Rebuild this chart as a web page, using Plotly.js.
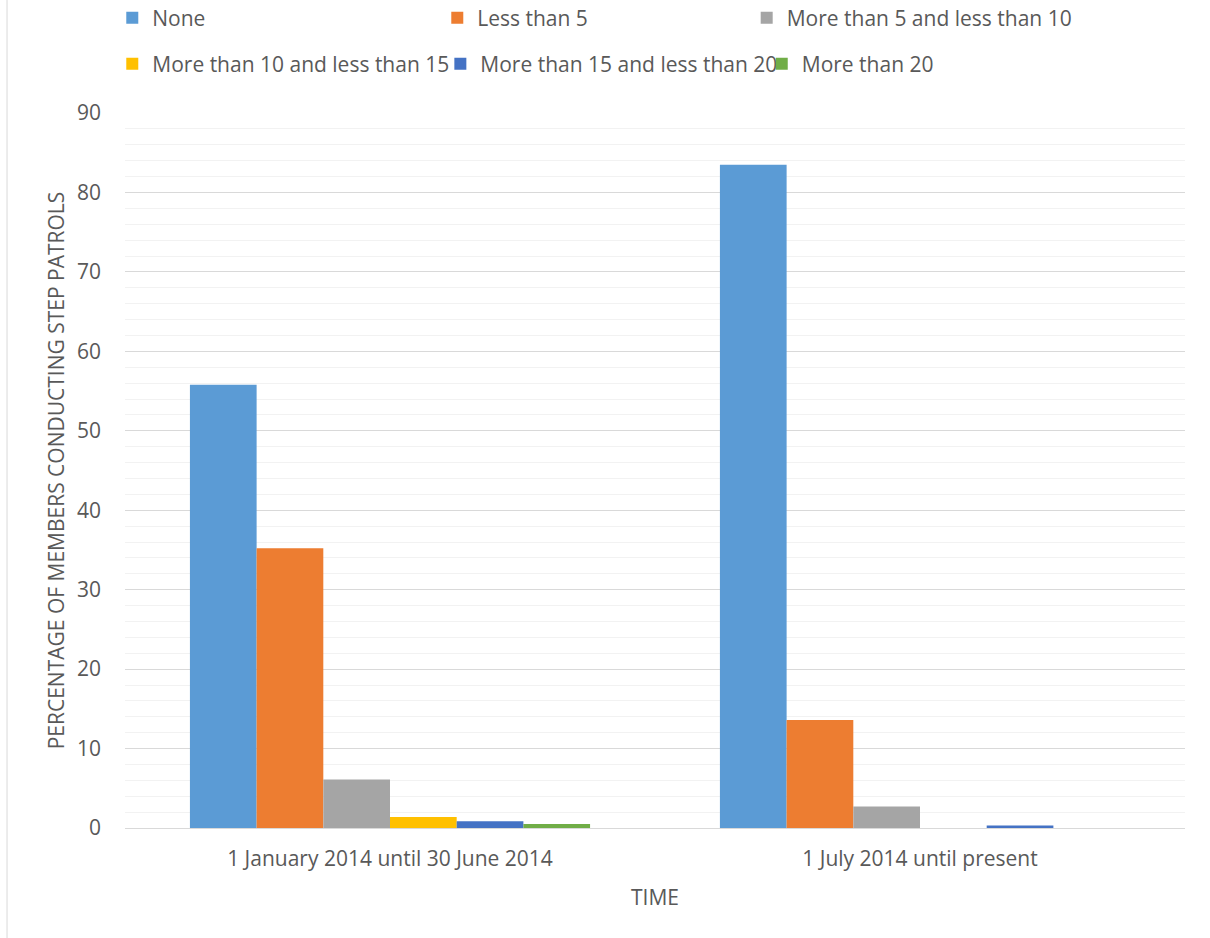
<!DOCTYPE html>
<html>
<head>
<meta charset="utf-8">
<script src="https://cdn.plot.ly/plotly-3.0.1.min.js"></script>
<style>html,body{margin:0;padding:0;background:#fff;}#chart{width:1210px;height:938px;}</style>
</head>
<body>
<div id="chart"></div>
<script>
const categories = ['1 January 2014 until 30 June 2014', '1 July 2014 until present'];
const seriesNames = ['None', 'Less than 5', 'More than 5 and less than 10', 'More than 10 and less than 15', 'More than 15 and less than 20', 'More than 20'];
const none = [55.8, 83.5];
const lessThan5 = [35.2, 13.6];
const fiveToTen = [6.1, 2.7];
const tenToFifteen = [1.4, 0];
const fifteenToTwenty = [0.85, 0.3];
const moreThan20 = [0.5, 0];
const seriesColors = ['#5B9BD5', '#ED7D31', '#A5A5A5', '#FFC000', '#4472C4', '#70AD47'];

const allValues = [none, lessThan5, fiveToTen, tenToFifteen, fifteenToTwenty, moreThan20];
const legendOf = ['legend', 'legend', 'legend3', 'legend2', 'legend5', 'legend4'];
const FONT = '"Open Sans", sans-serif';
const TXT = '#595959';
const FS = 21;

const traces = allValues.map((vals, i) => ({
  type: 'bar',
  name: seriesNames[i],
  x: categories,
  y: vals,
  marker: {color: seriesColors[i]},
  legend: legendOf[i],
  hoverinfo: 'x+y+name'
}));

const legendCommon = {
  orientation: 'h',
  xanchor: 'left',
  yanchor: 'middle',
  x: -0.012,
  font: {family: FONT, size: FS, color: TXT},
  bgcolor: 'rgba(0,0,0,0)',
  itemwidth: 30
};
const ROW1 = 1.1329, ROW2 = 1.0685;

const layout = {
  width: 1210,
  height: 938,
  paper_bgcolor: '#ffffff',
  plot_bgcolor: '#ffffff',
  margin: {l: 125, r: 25, t: 113, b: 110, autoexpand: false},
  font: {family: FONT, size: FS, color: TXT},
  barmode: 'group',
  bargap: 0.245,
  bargroupgap: 0,
  showlegend: true,
  legend: Object.assign({}, legendCommon, {y: ROW1, entrywidth: 280, entrywidthmode: 'pixels'}),
  legend3: Object.assign({}, legendCommon, {y: ROW1, x: 0.5865}),
  legend2: Object.assign({}, legendCommon, {y: ROW2}),
  legend5: Object.assign({}, legendCommon, {y: ROW2, x: 0.2975}),
  legend4: Object.assign({}, legendCommon, {y: ROW2, x: 0.6007}),
  xaxis: {
    type: 'category',
    showgrid: false,
    showline: false,
    ticks: '',
    ticklabelstandoff: 16,
    tickfont: {family: FONT, size: FS, color: TXT},
    title: {text: 'TIME', font: {family: FONT, size: FS, color: TXT}, standoff: 19}
  },
  yaxis: {
    range: [0, 90],
    dtick: 10,
    showgrid: true,
    gridcolor: '#d9d9d9',
    gridwidth: 1,
    zeroline: true,
    zerolinecolor: '#d9d9d9',
    zerolinewidth: 1,
    showline: false,
    ticks: '',
    ticklabelstandoff: 23,
    tickfont: {family: FONT, size: FS, color: TXT},
    minor: {dtick: 2, showgrid: true, gridcolor: '#f2f2f2', gridwidth: 1},
    title: {text: 'PERCENTAGE OF MEMBERS CONDUCTING STEP PATROLS', font: {family: FONT, size: FS, color: TXT}, standoff: 6}
  },
  shapes: [{
    type: 'line', xref: 'paper', yref: 'paper',
    x0: -0.1113, x1: -0.1113, y0: -0.154, y1: 1.158,
    line: {color: '#d9d9d9', width: 1}
  }]
};

Plotly.newPlot('chart', traces, layout, {displayModeBar: false, responsive: false});
</script>
</body>
</html>
